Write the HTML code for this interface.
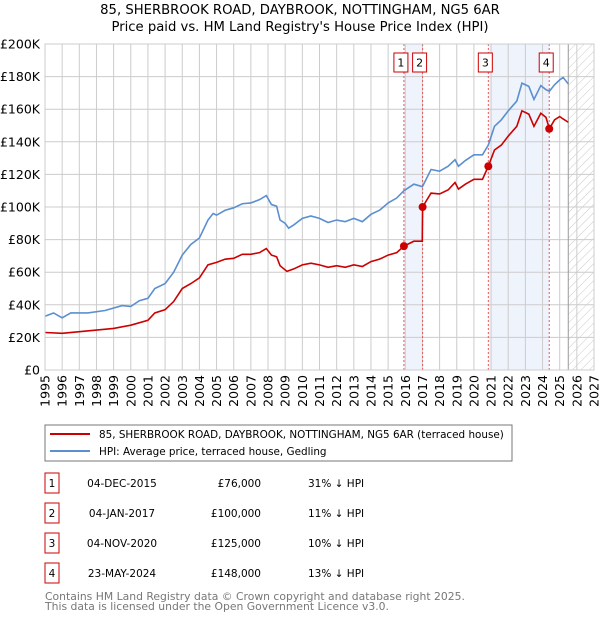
<!DOCTYPE html>
<html><head><meta charset="utf-8"><style>
body{margin:0;background:#fff;font-family:"DejaVu Sans","Liberation Sans",sans-serif;}
svg text{font-family:"DejaVu Sans","Liberation Sans",sans-serif;}
</style></head><body>
<svg id="chart" width="600" height="620" viewBox="0 0 600 620" xmlns="http://www.w3.org/2000/svg">
<defs>
<pattern id="hatch" patternUnits="userSpaceOnUse" width="6" height="6" patternTransform="rotate(45)">
<line x1="0" y1="0" x2="0" y2="6" stroke="#bbb" stroke-width="0.8"/></pattern>
</defs>
<text x="300" y="14" text-anchor="middle" font-size="13.2">85, SHERBROOK ROAD, DAYBROOK, NOTTINGHAM, NG5 6AR</text>
<text x="300" y="31" text-anchor="middle" font-size="13.2">Price paid vs. HM Land Registry's House Price Index (HPI)</text>
<g id="plot"></g>
<rect x="45" y="425" width="467" height="36" fill="#fff" stroke="#777"/>
<line x1="50" y1="434" x2="90" y2="434" stroke="#cc0000" stroke-width="2"/>
<text x="99" y="438" font-size="10.4">85, SHERBROOK ROAD, DAYBROOK, NOTTINGHAM, NG5 6AR (terraced house)</text>
<line x1="50" y1="451" x2="90" y2="451" stroke="#5b8fd0" stroke-width="2"/>
<text x="99" y="455" font-size="10.4">HPI: Average price, terraced house, Gedling</text>
<g id="table" font-size="10.5"></g>
<text x="45" y="600" font-size="10.8" fill="#777">Contains HM Land Registry data © Crown copyright and database right 2025.</text>
<text x="45" y="610" font-size="10.8" fill="#777">This data is licensed under the Open Government Licence v3.0.</text>
</svg>
<script>
const hpiDates=[1995,1995.5,1996,1996.5,1997.5,1998.5,1999.5,2000,2000.5,2001,2001.4,2002,2002.5,2003,2003.5,2004,2004.5,2004.8,2005,2005.5,2006,2006.5,2007,2007.5,2007.9,2008.2,2008.5,2008.7,2009,2009.2,2009.5,2010,2010.5,2011,2011.5,2012,2012.5,2013,2013.5,2014,2014.5,2015,2015.5,2015.92,2016.5,2017,2017.5,2018,2018.5,2018.9,2019.1,2019.5,2020,2020.5,2020.84,2021.2,2021.6,2022,2022.5,2022.8,2023.2,2023.5,2023.9,2024.2,2024.4,2024.7,2025,2025.2,2025.5];
const hpiValues=[33,35,32,35,35,36.5,39.5,39,42.5,44,50,53,60,70.5,77,81,92,96,95,98,99.5,102,102.5,104.5,107,101.5,100.5,92,90,87,89,93,94.5,93,90.5,92,91,93,91,95.5,98,102.5,105.5,110,114,112.5,123,122,125,129,125,128.5,132,132,138,149.5,153.5,159,165,176,174,166,174.5,172,171,175,178,179.5,175.5];
const propDates=[1995,1996,1997,1998,1999,2000,2001,2001.4,2002,2002.5,2003,2003.5,2004,2004.5,2005,2005.5,2006,2006.5,2007,2007.5,2007.9,2008.2,2008.5,2008.7,2009.1,2009.5,2010,2010.5,2011,2011.5,2012,2012.5,2013,2013.5,2014,2014.5,2015,2015.5,2015.92,2016.5,2016.99,2017.01,2017.5,2018,2018.5,2018.9,2019.1,2019.5,2020,2020.5,2020.84,2021.2,2021.6,2022,2022.5,2022.8,2023.2,2023.5,2023.9,2024.2,2024.4,2024.7,2025,2025.2,2025.5];
const propValues=[23,22.5,23.5,24.5,25.5,27.5,30.5,35,37,42,50,53,56.5,64.5,66,68,68.5,71,71,72,74.5,70.5,69.5,64,60.5,62,64.5,65.5,64.5,63,64,63,64.5,63.5,66.5,68,70.5,72,76,79,79,100,108.5,108,110.5,115,111,114,117,117,125,135,138,143.5,149.5,159,157,149.5,157.5,155,148,153.5,155.5,154,152];
const saleLabels=["1","2","3","4"];
const saleDates=[2015.92,2017.01,2020.84,2024.39];
const saleValues=[76,100,125,148];
const saleDateText=["04-DEC-2015","04-JAN-2017","04-NOV-2020","23-MAY-2024"];
const salePriceText=["£76,000","£100,000","£125,000","£148,000"];
const salePctText=["31% ↓ HPI","11% ↓ HPI","10% ↓ HPI","13% ↓ HPI"];
const yTicks=[0,20,40,60,80,100,120,140,160,180,200];
const yTickLabels=["£0","£20K","£40K","£60K","£80K","£100K","£120K","£140K","£160K","£180K","£200K"];
const xTicks=[];for(let y=1995;y<=2027;y++)xTicks.push(y);

const X0=45,X1=594,Y0=370,Y1=44;
const xs=v=>X0+(v-1995)/(2027-1995)*(X1-X0);
const ys=v=>Y0-(v/200)*(Y0-Y1);
const NS="http://www.w3.org/2000/svg";
const plot=document.getElementById('plot');
function mk(tag,attrs,parent){const e=document.createElementNS(NS,tag);for(const k in attrs)e.setAttribute(k,attrs[k]);(parent||plot).appendChild(e);return e;}

let e;
e=mk('rect',{x:X0,y:Y1,width:X1-X0,height:Y0-Y1,fill:'#fff'});


const spans=[[saleDates[0],saleDates[1]],[saleDates[2],saleDates[3]]];
spans.forEach(s=>{e=mk('rect',{x:xs(s[0]),y:Y1,width:xs(s[1])-xs(s[0]),height:Y0-Y1,fill:'#eef3fc'});

});
e=mk('rect',{x:xs(2025.5),y:Y1,width:X1-xs(2025.5),height:Y0-Y1,fill:'url(#hatch)'});


xTicks.forEach(t=>{mk('line',{x1:xs(t),x2:xs(t),y1:Y1,y2:Y0,stroke:'#ccc','stroke-width':1});
e=mk('text',{x:0,y:0,transform:`translate(${xs(t)+4.5},${Y0+5}) rotate(-90)`,'text-anchor':'end','font-size':12.5});
e.textContent=t;

});
yTicks.forEach((t,i)=>{mk('line',{x1:X0,x2:X1,y1:ys(t),y2:ys(t),stroke:'#ccc','stroke-width':1});
e=mk('text',{x:X0-5,y:ys(t)+4.5,'text-anchor':'end','font-size':12.5});
e.textContent=yTickLabels[i];

});
mk('line',{x1:xs(2025.5),x2:xs(2025.5),y1:Y1,y2:Y0,stroke:'#999','stroke-width':1});
saleDates.forEach(d=>{e=mk('line',{x1:xs(d),x2:xs(d),y1:Y1,y2:Y0,stroke:'#ee5555','stroke-width':1,'stroke-dasharray':'2,2'});

});
e=mk('polyline',{points:hpiDates.map((d,i)=>xs(d)+','+ys(hpiValues[i])).join(' '),fill:'none',stroke:'#5b8fd0','stroke-width':1.6});


e=mk('polyline',{points:propDates.map((d,i)=>xs(d)+','+ys(propValues[i])).join(' '),fill:'none',stroke:'#cc0000','stroke-width':1.6});


saleDates.forEach((d,i)=>{e=mk('circle',{cx:xs(d),cy:ys(saleValues[i]),r:4,fill:'#cc0000'});


const bx=xs(d)-3-7;
e=mk('rect',{x:bx,y:53,width:14,height:19,fill:'#fff',stroke:'#cc0000'});


e=mk('text',{x:bx+7,y:66.5,'text-anchor':'middle','font-size':11});
e.textContent=saleLabels[i];

});
mk('rect',{x:X0,y:Y1,width:X1-X0,height:Y0-Y1,fill:'none',stroke:'#ccc'});
const tb=document.getElementById('table');
saleLabels.forEach((l,i)=>{const cy=483+i*30;
e=mk('rect',{x:45,y:cy-10,width:14,height:20,fill:'#fff',stroke:'#cc0000'},tb);


e=mk('text',{x:52,y:cy+4,'text-anchor':'middle'},tb);e.textContent=l;


e=mk('text',{x:122,y:cy+4,'text-anchor':'middle'},tb);e.textContent=saleDateText[i];


e=mk('text',{x:261,y:cy+4,'text-anchor':'end'},tb);e.textContent=salePriceText[i];


e=mk('text',{x:308,y:cy+4},tb);e.textContent=salePctText[i];

});
</script>
</body></html>
